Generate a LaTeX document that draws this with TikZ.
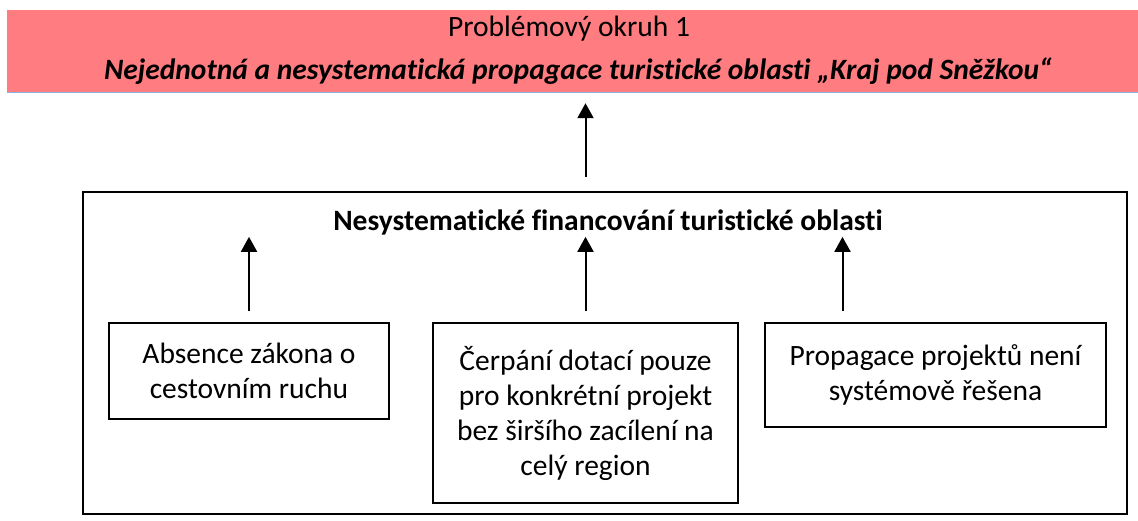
\documentclass[tikz,border=0pt]{standalone}
\usepackage{fontspec}
\setmainfont{Carlito}[Ligatures={NoCommon}]
\usetikzlibrary{arrows.meta}
\definecolor{bannerred}{RGB}{255,124,128}
\definecolor{lineblue}{RGB}{141,179,226}

\begin{document}
\begin{tikzpicture}[x=1pt, y=-1pt,
  font=\fontsize{29.5}{35}\selectfont,
  cause/.style={draw, line width=1.3pt, align=center, inner sep=0pt},
  arr/.style={-{Triangle[width=16pt,length=15pt]}, line width=2pt}
]
  \useasboundingbox (0,0) rectangle (1138,520);
  % problemovy okruh
  \node[fill=bannerred, minimum width=1131pt, minimum height=82pt, inner sep=0pt] (banner) at (572.5,51) {};
  \draw[lineblue, line width=1pt] (banner.south west) -- (banner.south east);
  \node[anchor=base] (okruh) at (569,36) {Problémový okruh 1};
  \node[anchor=base, font=\fontsize{29.5}{35}\selectfont\bfseries\itshape] (nazev) at (578,79)
        {Nejednotná a nesystematická propagace turistické oblasti „Kraj pod Sněžkou“};
  % priciny
  \node[draw, line width=1.5pt, minimum width=1044pt, minimum height=322pt, inner sep=0pt] (outer) at (605,353) {};
  \node[anchor=base, inner sep=0pt, font=\fontsize{29.5}{35}\selectfont\bfseries] (titul) at (608,230)
        {Nesystematické financování turistické oblasti};
  \node[cause, minimum width=280pt, minimum height=96pt]  (zakon)     at (249,371)   {Absence zákona o\\cestovním ruchu};
  \node[cause, minimum width=305pt, minimum height=180pt] (dotace)    at (585.5,413) {Čerpání dotací pouze\\pro konkrétní projekt\\bez širšího zacílení na\\celý region};
  \node[cause, minimum width=341pt, minimum height=104pt] (propagace) at (935.5,375) {Propagace projektů není\\systémově řešena};
  \draw[arr, shorten <=14pt, shorten >=11pt] (outer.north -| dotace.north) -- (banner.south -| dotace.north);
  \draw[arr, shorten <=11pt, shorten >=2pt] (zakon.north) -- (zakon.north |- titul.south);
  \draw[arr, shorten <=11pt, shorten >=2pt] (dotace.north) -- (dotace.north |- titul.south);
  \draw[arr, shorten <=11pt, shorten >=2pt] ([xshift=-93pt]propagace.north) -- ([xshift=-93pt]propagace.north |- titul.south);
\end{tikzpicture}
\end{document}
